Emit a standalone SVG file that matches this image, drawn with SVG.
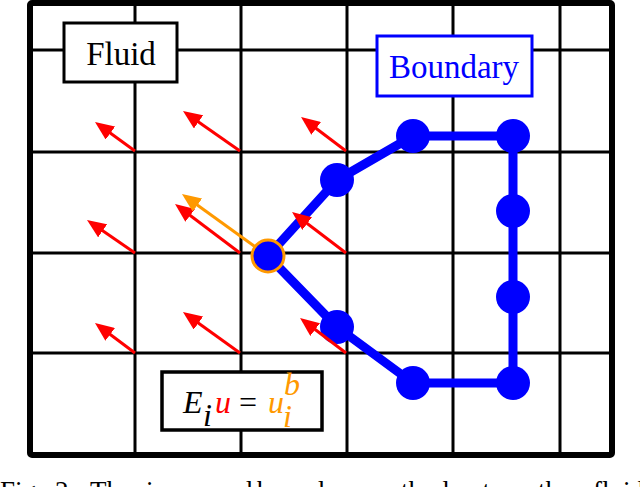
<svg xmlns="http://www.w3.org/2000/svg" width="640" height="487" viewBox="0 0 640 487">
<style>
.grid{stroke:#000;stroke-width:3;fill:none}
.frame{stroke:#000;stroke-width:6;fill:none;stroke-linejoin:round}
.lbl{font-family:"Liberation Serif","Times New Roman",serif;font-size:33px;text-anchor:middle}
.eq{font-family:"Liberation Serif","Times New Roman",serif;font-style:italic;font-size:32px}
.red{stroke:#ff0000;stroke-width:3;fill:none;marker-end:url(#rh)}
.org{stroke:#ff9900;stroke-width:3;fill:none;marker-end:url(#oh)}
.bnode{fill:#0000ff}
</style>
<defs>
<marker id="rh" markerUnits="userSpaceOnUse" markerWidth="20" markerHeight="16" refX="7" refY="8" orient="auto"><path d="M0,0 L19,8 L0,16 z" fill="#ff0000"/></marker>
<marker id="oh" markerUnits="userSpaceOnUse" markerWidth="20" markerHeight="16" refX="7" refY="8" orient="auto"><path d="M0,0 L19,8 L0,16 z" fill="#ff9900"/></marker>
</defs>
<rect x="0" y="0" width="640" height="487" fill="#fff"/>
<g id="grid">
<path class="grid" d="M135,3V455 M241,3V455 M347,3V455 M453,3V455 M560,3V455 M30,50H612 M30,152H612 M30,253H612 M30,353H612"/>
<rect class="frame" x="30" y="3" width="582" height="452" rx="2"/>
</g>
<g id="fluid-label">
<rect x="64" y="23" width="113" height="59" fill="#fff" stroke="#000" stroke-width="3"/>
<text class="lbl" x="121" y="65" fill="#000">Fluid</text>
</g>
<g id="boundary-label">
<rect x="377" y="36" width="155" height="60" fill="#fff" stroke="#0000ff" stroke-width="3"/>
<text class="lbl" x="454" y="78" fill="#0000ff">Boundary</text>
</g>
<g id="connectors">
<path id="boundary-curve" d="M268,256 L337,180 L413,136 L513,136 L513,383 L413,383 L337,327 Z" fill="none" stroke="#0000ff" stroke-width="9" stroke-linejoin="round"/>
</g>
<g id="boundary-nodes">
<circle class="bnode" cx="337" cy="180" r="17"/>
<circle class="bnode" cx="413" cy="136" r="17"/>
<circle class="bnode" cx="513" cy="136" r="17"/>
<circle class="bnode" cx="513" cy="211" r="17"/>
<circle class="bnode" cx="513" cy="297" r="17"/>
<circle class="bnode" cx="513" cy="383" r="17"/>
<circle class="bnode" cx="413" cy="383" r="17"/>
<circle class="bnode" cx="337" cy="327" r="17"/>
</g>
<g id="velocity-arrows">
<line class="red" x1="135" y1="151" x2="104.7" y2="129"/>
<line class="red" x1="240" y1="151" x2="192.8" y2="117.9"/>
<line class="red" x1="346" y1="151" x2="310.6" y2="124.2"/>
<line class="red" x1="135" y1="253" x2="96.9" y2="226.8"/>
<line class="red" x1="240" y1="253" x2="184.6" y2="211.2"/>
<line class="red" x1="346" y1="253" x2="301.6" y2="219.3"/>
<line class="red" x1="135" y1="353" x2="104.6" y2="330.2"/>
<line class="red" x1="240" y1="353" x2="192.7" y2="319"/>
<line class="red" x1="346" y1="353" x2="309.6" y2="325.3"/>
<line class="org" x1="268" y1="256" x2="191.7" y2="201"/>
</g>
<g id="node-i">
<circle cx="268" cy="256" r="16" fill="#0000ff" stroke="#ff9900" stroke-width="3"/>
</g>
<g id="equation">
<rect x="162" y="372" width="160" height="58" fill="#fff" stroke="#000" stroke-width="3.5"/>
<text class="eq" x="183" y="413" fill="#000">E</text>
<text class="eq" x="203" y="426" font-size="18" fill="#000">i</text>
<text class="eq" x="215" y="413" fill="#ff0000">u</text>
<text x="239" y="413" font-family="Liberation Serif, serif" font-size="32" fill="#000">=</text>
<text class="eq" x="268" y="413" fill="#ff0000" style="fill:#ff9900">u</text>
<text class="eq" x="284" y="395" font-size="18" fill="#ff9900">b</text>
<text class="eq" x="283" y="427" font-size="18" fill="#ff9900">i</text>
</g>
<g id="caption" font-family="Liberation Serif, serif" font-size="27" fill="#000">
<text y="500"><tspan x="0">Fig.</tspan><tspan x="55">2.</tspan><tspan x="90">The</tspan><tspan x="146">immersed</tspan><tspan x="257">boundary</tspan><tspan x="368">method</tspan><tspan x="460">sets</tspan><tspan x="538">the</tspan><tspan x="593">fluid</tspan></text>
</g>
</svg>
